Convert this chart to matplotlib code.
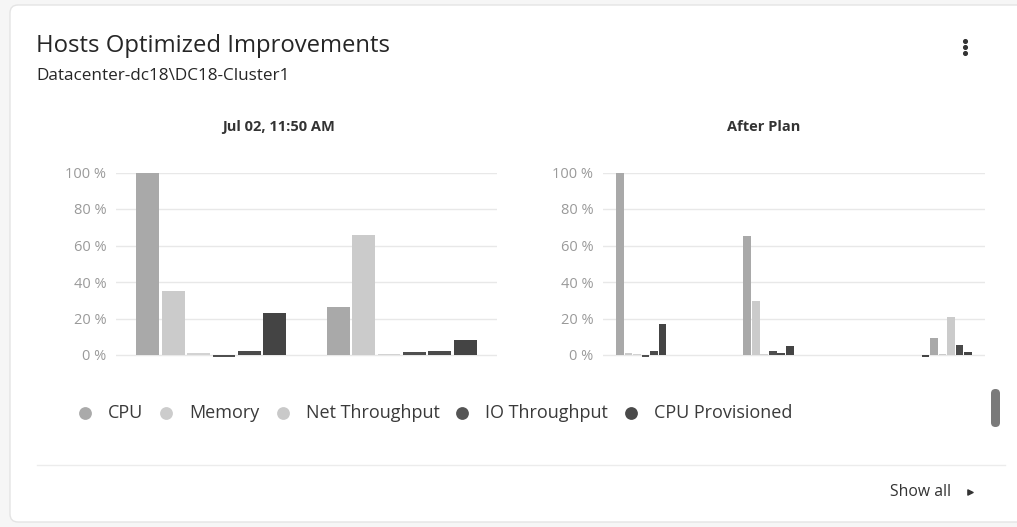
import matplotlib
matplotlib.use("Agg")
import matplotlib.pyplot as plt
import numpy as np
from matplotlib.patches import FancyBboxPatch

plt.rcParams['font.family'] = ['Open Sans', 'DejaVu Sans']

# ---------------- data ----------------
legend_labels = ["CPU", "Memory", "Net Throughput", "IO Throughput", "CPU Provisioned"]
y_ticks = [0, 20, 40, 60, 80, 100]
y_tick_labels = ["0 %", "20 %", "40 %", "60 %", "80 %", "100 %"]

left_title = "Jul 02, 11:50 AM"
left_hosts = ["Host 1", "Host 2"]
left_cpu = [100, 26.5]
left_memory = [35, 66]
left_net = [1.0, 0.7]
left_io = [-0.9, 1.5]
left_cpu_prov = [2.4, 2.4]
left_series6 = [23, 8.2]
left_colors = ["#a9a9a9", "#cbcbcb", "#d3d3d3", "#4f4f4f", "#4a4a4a", "#444444"]

right_title = "After Plan"
right_hosts = ["Host 1", "Host 2", "Host 3"]
nan = float("nan")
right_s1 = [100, 65, nan]
right_s2 = [0.9, 29.5, nan]
right_s3 = [0.5, 0.5, nan]
right_s4 = [-1.3, 2.2, nan]
right_s5 = [2.4, 1.3, nan]
right_s6 = [16.8, 4.9, nan]
right_s7 = [nan, nan, -1.1]
right_s8 = [nan, nan, 9.1]
right_s9 = [nan, nan, 0.4]
right_s10 = [nan, nan, 20.6]
right_s11 = [nan, nan, 5.5]
right_s12 = [nan, nan, 1.6]
right_colors = ["#a9a9a9", "#cbcbcb", "#d3d3d3", "#4f4f4f", "#4a4a4a", "#444444",
                "#444444", "#a9a9a9", "#cbcbcb", "#cbcbcb", "#4a4a4a", "#444444"]

legend_colors = ["#aaaaaa", "#cccccc", "#c9c9c9", "#555555", "#4a4a4a"]

# ---------------- figure ----------------
W, H = 1017, 527
fig = plt.figure(figsize=(W / 100, H / 100), dpi=100)
fig.patch.set_facecolor("#f6f6f6")

# background / overlay axes in pixel coords
bg = fig.add_axes([0, 0, 1, 1])
bg.set_xlim(0, W)
bg.set_ylim(H, 0)
bg.axis("off")
card = FancyBboxPatch((10, 5), W + 20, 517, boxstyle="round,pad=0,rounding_size=8",
                      facecolor="white", edgecolor="#e4e4e4", linewidth=1)
bg.add_patch(card)

bg.text(36, 46, "Hosts Optimized Improvements", fontsize=17.2, color="#262626",
        va="center", ha="left")
bg.text(36, 76, "Datacenter-dc18\\DC18-Cluster1", fontsize=12.3, color="#262626",
        va="center", ha="left")
bg.scatter([965, 965, 965], [41, 47, 53], s=7, color="#333333", zorder=3)

# separator & show all
bg.plot([37, 1005], [465, 465], color="#ececec", lw=1)
bg.text(951, 492, "Show all", fontsize=11.3, color="#333333", va="center", ha="right")
bg.scatter([970], [492], marker=">", s=14, color="#333333")
# scrollbar
bg.add_patch(FancyBboxPatch((991, 389), 9, 38, boxstyle="round,pad=0,rounding_size=4.5",
                            facecolor="#7a7a7a", edgecolor="none"))

# legend flowing like HTML
renderer = fig.canvas.get_renderer()
x = 85
ly = 413
for lab, col in zip(legend_labels, legend_colors):
    bg.scatter([x], [ly], s=85, color=col, zorder=3, linewidths=0)
    t = bg.text(x + 23, ly, lab, fontsize=13.0, color="#3a3a3a", va="center", ha="left")
    bb = t.get_window_extent(renderer=renderer)
    x = x + 23 + bb.width + 23


def draw_chart(rect, hosts, series, colors, title, title_cx):
    ax = fig.add_axes(rect)
    n = len(series)
    xs = np.arange(len(hosts))
    slot = 0.8 / n
    for i, (vals, col) in enumerate(zip(series, colors)):
        off = -0.4 + slot * (i + 0.5)
        ax.bar(xs + off, vals, width=slot * 0.9, color=col, linewidth=0, zorder=2,
               clip_on=False)
    ax.set_xlim(-0.5, len(hosts) - 0.5)
    ax.set_ylim(-2, 100)
    ax.set_yticks(y_ticks)
    ax.set_yticklabels(y_tick_labels)
    ax.tick_params(axis="y", length=0, pad=7, labelsize=10.5, labelcolor="#9a9a9a")
    ax.set_xticks([])
    for s in ax.spines.values():
        s.set_visible(False)
    for yv in y_ticks:
        ax.axhline(yv, color="#e8e8e8", lw=1, zorder=1)
    ax.patch.set_alpha(0)
    bg.text(title_cx, 127, title, fontsize=10.5, fontweight="bold", color="#333333",
            ha="center", va="center")
    return ax


def rect_px(x0, x1, y100, y0, ymin=-2):
    ppp = (y0 - y100) / 100.0
    ybot = y0 - ymin * ppp
    return [x0 / W, (H - ybot) / H, (x1 - x0) / W, (ybot - y100) / H]


draw_chart(rect_px(116, 497, 172.5, 355), left_hosts,
           [left_cpu, left_memory, left_net, left_io, left_cpu_prov, left_series6],
           left_colors, left_title, 279)
draw_chart(rect_px(603, 985, 172.5, 355), right_hosts,
           [right_s1, right_s2, right_s3, right_s4, right_s5, right_s6,
            right_s7, right_s8, right_s9, right_s10, right_s11, right_s12],
           right_colors, right_title, 764)

fig.savefig("out.png", dpi=100, facecolor=fig.get_facecolor())
